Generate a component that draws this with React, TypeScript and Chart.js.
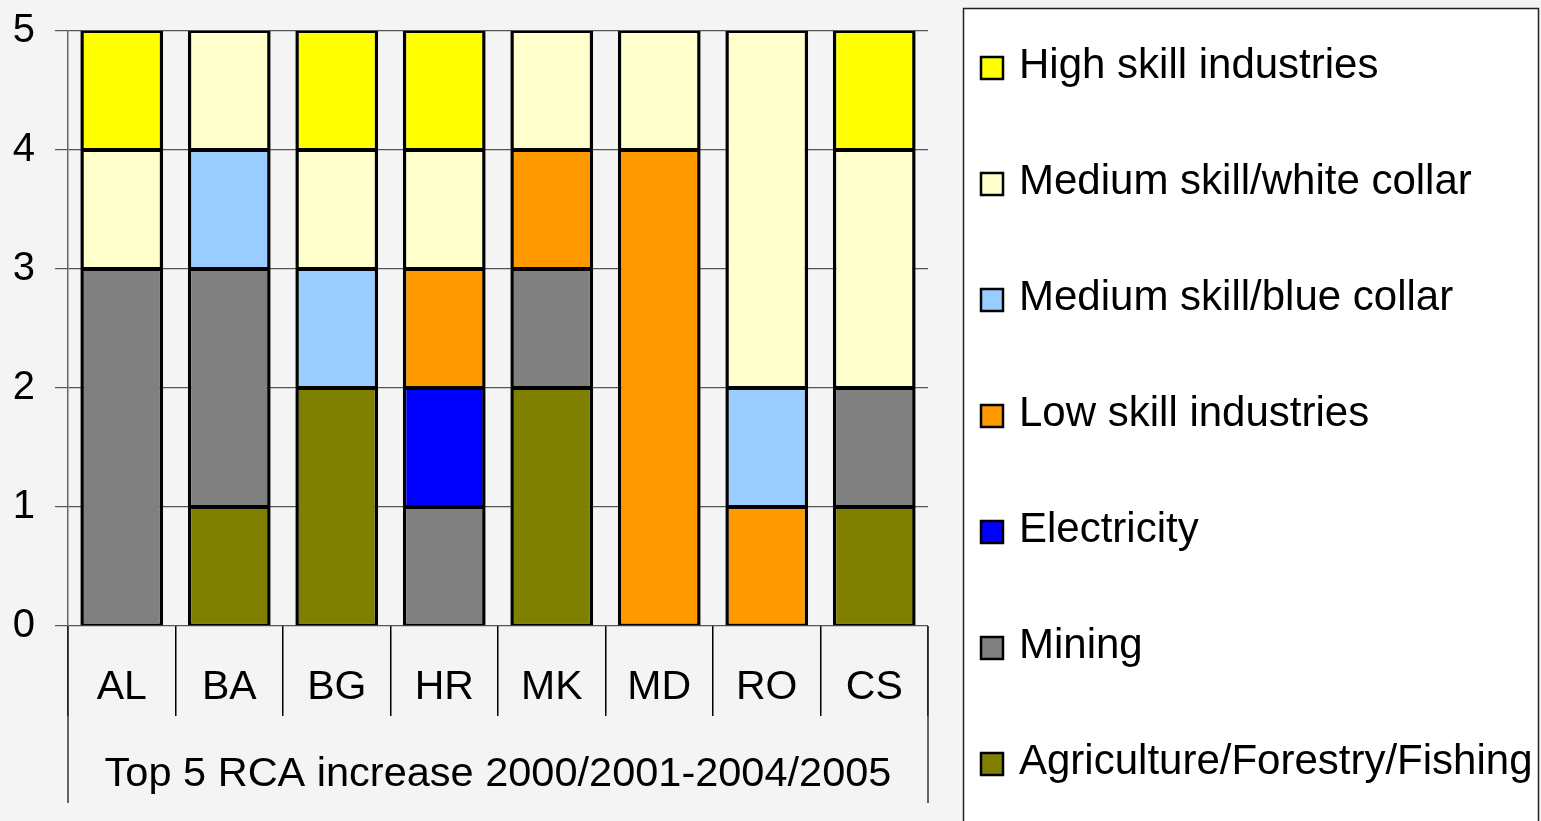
import React, { useEffect, useRef } from "react";
import { Chart, registerables } from "chart.js";

Chart.register(...registerables);

const categories = ["AL", "BA", "BG", "HR", "MK", "MD", "RO", "CS"];
const groupLabel = "Top 5 RCA increase 2000/2001-2004/2005";

const agriculture = [0, 1, 2, 0, 2, 0, 0, 1];
const mining = [3, 2, 0, 1, 1, 0, 0, 1];
const electricity = [0, 0, 0, 1, 0, 0, 0, 0];
const lowSkill = [0, 0, 0, 1, 1, 4, 1, 0];
const blueCollar = [0, 1, 1, 0, 0, 0, 1, 0];
const whiteCollar = [1, 1, 1, 1, 1, 1, 3, 2];
const highSkill = [1, 0, 1, 1, 0, 0, 0, 1];

const yTicks = [0, 1, 2, 3, 4, 5];

const FONT = '"Liberation Sans", Arial, sans-serif';

const series = [
  { label: "Agriculture/Forestry/Fishing", data: agriculture, color: "#808000" },
  { label: "Mining", data: mining, color: "#808080" },
  { label: "Electricity", data: electricity, color: "#0000FF" },
  { label: "Low skill industries", data: lowSkill, color: "#FF9900" },
  { label: "Medium skill/blue collar", data: blueCollar, color: "#99CCFF" },
  { label: "Medium skill/white collar", data: whiteCollar, color: "#FFFFCC" },
  { label: "High skill industries", data: highSkill, color: "#FFFF00" },
];

const decorPlugin = {
  id: "decor",
  beforeDraw(chart: any) {
    const ctx = chart.ctx;
    ctx.save();
    ctx.fillStyle = "#f4f4f4";
    ctx.fillRect(0, 0, chart.width, chart.height);
    ctx.restore();
  },
  afterDraw(chart: any) {
    const ctx = chart.ctx;
    const x = chart.scales.x;
    const bottom = chart.chartArea.bottom;
    ctx.save();
    ctx.strokeStyle = "#333";
    ctx.lineWidth = 1.5;
    ctx.beginPath();
    ctx.moveTo(x.left, bottom);
    ctx.lineTo(x.left, 803);
    ctx.moveTo(x.right, bottom);
    ctx.lineTo(x.right, 803);
    ctx.stroke();

    ctx.fillStyle = "#ffffff";
    ctx.fillRect(963, 8, 576, 830);
    ctx.strokeStyle = "#222";
    ctx.lineWidth = 1.5;
    ctx.strokeRect(963.5, 8.5, 575, 830);

    const ds = chart.data.datasets.slice().reverse();
    ctx.font = `42px ${FONT}`;
    ctx.textBaseline = "middle";
    ctx.textAlign = "left";
    ds.forEach((d: any, i: number) => {
      const cy = 66 + i * 116;
      ctx.fillStyle = d.backgroundColor;
      ctx.fillRect(981, cy - 9, 22, 22);
      ctx.strokeStyle = "#000";
      ctx.lineWidth = 2.5;
      ctx.strokeRect(981, cy - 9, 22, 22);
      ctx.fillStyle = "#000";
      ctx.fillText(d.label, 1019, cy);
    });
    ctx.restore();
  },
};

export default function App() {
  const ref = useRef<HTMLCanvasElement | null>(null);

  useEffect(() => {
    document.body.style.margin = "0";
    const canvas = ref.current;
    if (!canvas) return;
    const chart = new Chart(canvas, {
      type: "bar",
      data: {
        labels: categories,
        datasets: series.map((s) => ({
          label: s.label,
          data: s.data,
          backgroundColor: s.color,
          borderColor: "#000",
          borderWidth: { top: 2, bottom: 2, left: 3.5, right: 3.5 },
          borderSkipped: false,
          barPercentage: 0.77,
          categoryPercentage: 1,
        })),
      },
      options: {
        animation: false,
        responsive: false,
        maintainAspectRatio: false,
        layout: { padding: { left: 8, top: 31, right: 613, bottom: 0 } },
        plugins: {
          legend: { display: false },
          tooltip: { enabled: false },
        },
        scales: {
          x: {
            stacked: true,
            grid: {
              offset: true,
              drawOnChartArea: false,
              tickLength: 90,
              color: "#000",
              lineWidth: 1.5,
            },
            border: { display: false },
            ticks: {
              font: { family: FONT, size: 41 },
              color: "#000",
              padding: -53,
            },
            title: {
              display: true,
              text: groupLabel,
              font: { family: FONT, size: 41.5 },
              color: "#000",
              padding: { top: 0, bottom: 22 },
            },
            afterFit: (s: any) => {
              s.height = 195;
              s.paddingLeft = 0;
              s.paddingRight = 0;
            },
          },
          y: {
            stacked: true,
            min: 0,
            max: 5,
            afterBuildTicks: (s: any) => {
              s.ticks = yTicks.map((v) => ({ value: v }));
            },
            ticks: {
              font: { family: FONT, size: 40 },
              color: "#000",
              padding: 20,
            },
            grid: { color: "#555", lineWidth: 1.2, tickLength: 13 },
            border: { color: "#666", width: 1.5 },
            afterFit: (s: any) => {
              s.width = 60;
              s.paddingTop = 0;
              s.paddingBottom = 0;
            },
          },
        },
      },
      plugins: [decorPlugin],
    });
    return () => chart.destroy();
  }, []);

  return (
    <div style={{ width: 1541, height: 821, background: "#f4f4f4" }}>
      <canvas ref={ref} width={1541} height={821} style={{ display: "block" }} />
    </div>
  );
}
